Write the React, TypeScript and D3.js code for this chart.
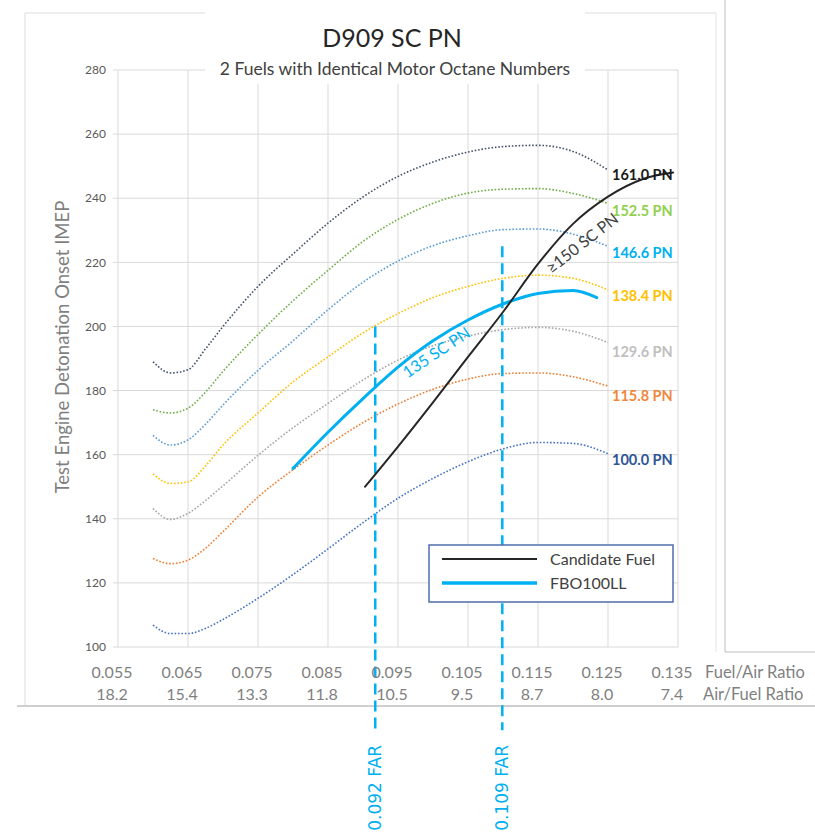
import React from "react";
import * as d3 from "d3";

// fuel/air ratio sample points shared by all PN curves
const farGrid = [0.06, 0.0625, 0.065, 0.0675, 0.07, 0.075, 0.08, 0.085, 0.09, 0.095, 0.1, 0.105, 0.11, 0.115, 0.12, 0.125];

const pn1610 = [189, 185.5, 186.5, 193, 200, 212.5, 222.6, 232.2, 240.4, 246.8, 251.3, 254.4, 256.1, 256.5, 254.6, 248.8];
const pn1525 = [174, 173, 174.5, 179.5, 186, 197.5, 208, 217.5, 226.5, 233.4, 238.4, 241.6, 242.8, 243, 241.5, 238.4];
const pn1466 = [166, 163, 164.6, 169.5, 175.5, 186.3, 195.5, 205.2, 213.8, 220.4, 225.2, 228.3, 230.2, 230.4, 228.8, 225];
const pn1384 = [154, 151, 151.5, 156.5, 163, 173, 182.7, 190.5, 198, 204, 209, 212.5, 215, 216, 215, 211.4];
const pn1296 = [143.2, 139.8, 141.7, 145.7, 150.3, 159.8, 168.4, 176, 183.3, 189.5, 194, 197, 199, 199.7, 198.5, 195];
const pn1158 = [127.6, 126, 127.1, 130.8, 136, 146.8, 155.3, 163, 170, 175.8, 180.4, 183.6, 185.3, 185.5, 184.3, 181.4];
const pn1000 = [106.8, 104.2, 104.2, 105.8, 108.6, 115.2, 122.6, 130.6, 138.8, 146.4, 152.6, 157.8, 161.8, 163.8, 163.5, 160.3];

const pnNames = ["161.0 PN", "152.5 PN", "146.6 PN", "138.4 PN", "129.6 PN", "115.8 PN", "100.0 PN"];
const pnValues = [pn1610, pn1525, pn1466, pn1384, pn1296, pn1158, pn1000];
const pnLabelAt = [247.2, 236, 222.8, 209.6, 192.1, 178.3, 158.5];

// candidate fuel and FBO100LL
const candFar = [0.0903, 0.095, 0.1, 0.105, 0.11, 0.115, 0.12, 0.125, 0.13, 0.1343];
const candVal = [150, 162.5, 176.3, 190.5, 204.5, 219.5, 232, 240.5, 246, 248];
const fboFar = [0.08, 0.085, 0.09, 0.095, 0.1, 0.105, 0.11, 0.115, 0.12, 0.1234];
const fboVal = [155.7, 167, 177.5, 187.3, 195.5, 202, 207, 210.3, 211.2, 209];

// FAR markers
const markerFar = [0.09175, 0.1099];
const markerTop = [200, 225];
const markerBottom = 74;
const markerLabels = ["0.092 FAR", "0.109 FAR"];

const xTicks = [0.055, 0.065, 0.075, 0.085, 0.095, 0.105, 0.115, 0.125, 0.135];
const farLabels = ["0.055", "0.065", "0.075", "0.085", "0.095", "0.105", "0.115", "0.125", "0.135"];
const afrLabels = ["18.2", "15.4", "13.3", "11.8", "10.5", "9.5", "8.7", "8.0", "7.4"];
const yTicks = [100, 120, 140, 160, 180, 200, 220, 240, 260, 280];

const lineColors = ["#44546A", "#70AD47", "#5B9BD5", "#FFC000", "#A5A5A5", "#ED7D31", "#4472C4"];
const labelColors = ["#1a1a1a", "#92D050", "#00B0F0", "#FFC000", "#BFBFBF", "#F0883E", "#2F5597"];

const FONT = "Lato, 'Open Sans', sans-serif";
const BLUE = "#00B0F0";

export default function App() {
  const x = d3.scaleLinear().domain([0.055, 0.135]).range([118, 678]);
  const y = d3.scaleLinear().domain([100, 280]).range([647, 70]);

  const line = d3
    .line<[number, number]>()
    .x((d) => x(d[0]))
    .y((d) => y(d[1]))
    .curve(d3.curveMonotoneX);

  const zip = (xs: number[], ys: number[]) => xs.map((v, i) => [v, ys[i]] as [number, number]);

  // slope angle of a line near a given far, for the rotated labels
  const angleAt = (xs: number[], ys: number[], f: number) => {
    const i = Math.max(1, xs.findIndex((v) => v >= f));
    const dx = x(xs[i]) - x(xs[i - 1]);
    const dy = y(ys[i]) - y(ys[i - 1]);
    return (Math.atan2(dy, dx) * 180) / Math.PI;
  };

  const fboLabel = { far: 0.1005, val: 191.9 };
  const candLabel = { far: 0.1213, val: 226 };

  return (
    <svg
      width={815}
      height={835}
      style={{ position: "absolute", left: 0, top: 0, background: "#fff" }}
      fontFamily={FONT}
    >
      {/* frames */}
      <g fill="none">
        <line x1={25} y1={13} x2={716} y2={13} stroke="#DDDDDD" />
        <line x1={25} y1={13} x2={25} y2={706} stroke="#DDDDDD" />
        <line x1={716} y1={13} x2={716} y2={652} stroke="#E4E4E4" />
        <line x1={725} y1={0} x2={725} y2={652} stroke="#BFBFBF" />
        <line x1={725} y1={652} x2={815} y2={652} stroke="#BFBFBF" />
        <line x1={17} y1={706} x2={815} y2={706} stroke="#BFBFBF" strokeWidth={1.5} />
      </g>

      {/* gridlines */}
      <g stroke="#D9D9D9" strokeWidth={1}>
        {yTicks.map((t) => (
          <line key={"h" + t} x1={113} x2={678} y1={y(t)} y2={y(t)} />
        ))}
        {xTicks.map((t) => (
          <line key={"v" + t} x1={x(t)} x2={x(t)} y1={y(280)} y2={y(100)} />
        ))}
      </g>

      {/* y tick labels */}
      <g fontSize={12} fill="#595959" textAnchor="end">
        {yTicks.map((t) => (
          <text key={t} x={106} y={y(t)} dy="0.35em">
            {t}
          </text>
        ))}
      </g>
      <text
        transform={`translate(63, 347) rotate(-90)`}
        textAnchor="middle"
        dy="0.35em"
        fontSize={18.5}
        fill="#7F7F7F"
      >
        Test Engine Detonation Onset IMEP
      </text>

      {/* title box */}
      <rect x={205} y={8} width={380} height={76} fill="#fff" />
      <text x={392} y={47} textAnchor="middle" fontSize={25} fill="#262626">
        D909 SC PN
      </text>
      <text x={395} y={69} textAnchor="middle" dy="0.35em" fontSize={17.5} fill="#404040">
        2 Fuels with Identical Motor Octane Numbers
      </text>

      {/* PN curves */}
      <g fill="none" strokeWidth={1.6} strokeDasharray="1.6 1.8">
        {pnValues.map((vals, i) => (
          <path key={pnNames[i]} d={line(zip(farGrid, vals)) || ""} stroke={lineColors[i]} />
        ))}
      </g>

      {/* FAR markers */}
      <g stroke={BLUE} strokeWidth={2.5} strokeDasharray="11 6">
        {markerFar.map((f, i) => (
          <line key={f} x1={x(f)} x2={x(f)} y1={y(markerTop[i])} y2={y(markerBottom)} />
        ))}
      </g>
      <g fontFamily="'DejaVu Sans', Verdana, sans-serif" fontSize={17} fill={BLUE}>
        {markerFar.map((f, i) => (
          <text
            key={f}
            transform={`translate(${x(f)}, 745) rotate(-90)`}
            textAnchor="end"
            dy="0.36em"
          >
            {markerLabels[i]}
          </text>
        ))}
      </g>

      {/* fuels */}
      <path d={line(zip(fboFar, fboVal)) || ""} fill="none" stroke={BLUE} strokeWidth={3} strokeLinecap="round" />
      <path d={line(zip(candFar, candVal)) || ""} fill="none" stroke="#262626" strokeWidth={2} strokeLinecap="round" />

      <text
        transform={`translate(${x(fboLabel.far)}, ${y(fboLabel.val)}) rotate(${angleAt(fboFar, fboVal, fboLabel.far) - 3})`}
        textAnchor="middle"
        dy="0.35em"
        fontSize={16}
        fill={BLUE}
      >
        135 SC PN
      </text>
      <text
        transform={`translate(${x(candLabel.far)}, ${y(candLabel.val)}) rotate(${angleAt(candFar, candVal, candLabel.far)})`}
        textAnchor="middle"
        dy="0.35em"
        fontSize={16}
        fill="#404040"
      >
        ≥150 SC PN
      </text>

      {/* PN end labels */}
      <g fontSize={14.5} fontWeight={700}>
        {pnNames.map((n, i) => (
          <text key={n} x={x(0.125) + 4} y={y(pnLabelAt[i])} dy="0.35em" fill={labelColors[i]}>
            {n}
          </text>
        ))}
      </g>

      {/* legend */}
      <rect x={429} y={545} width={244} height={57} fill="#fff" stroke="#4F6EAD" strokeWidth={1.5} />
      <line x1={442} x2={537} y1={559} y2={559} stroke="#262626" strokeWidth={2} />
      <line x1={442} x2={537} y1={583} y2={583} stroke={BLUE} strokeWidth={3.5} />
      <g fontSize={16} fill="#404040">
        <text x={550} y={559} dy="0.35em">Candidate Fuel</text>
        <text x={550} y={583} dy="0.35em">FBO100LL</text>
      </g>

      {/* x labels: FAR and AFR rows */}
      <g fontSize={16} fill="#7F7F7F" textAnchor="middle">
        {xTicks.map((t, i) => (
          <text key={"f" + t} x={x(t) - 6} y={672} dy="0.35em">
            {farLabels[i]}
          </text>
        ))}
        {xTicks.map((t, i) => (
          <text key={"a" + t} x={x(t) - 6} y={694} dy="0.35em">
            {afrLabels[i]}
          </text>
        ))}
      </g>
      <g fontSize={16.5} fill="#7F7F7F">
        <text x={705} y={672} dy="0.35em">Fuel/Air Ratio</text>
        <text x={703} y={694} dy="0.35em">Air/Fuel Ratio</text>
      </g>
    </svg>
  );
}
